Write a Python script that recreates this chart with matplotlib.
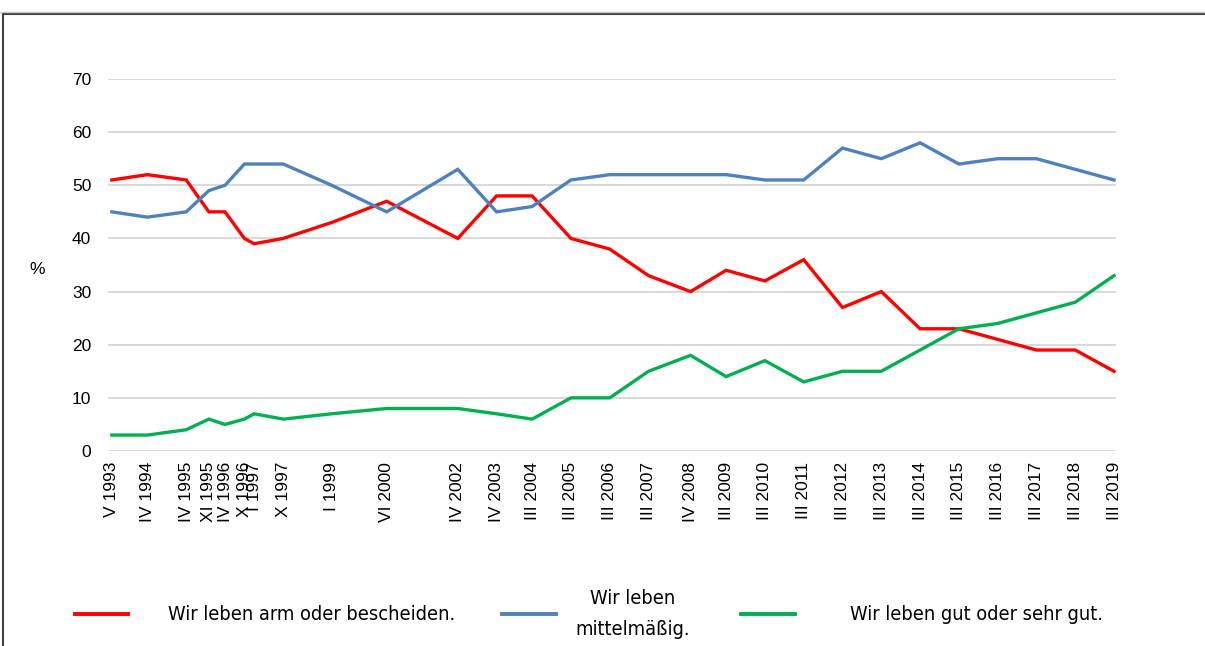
import matplotlib
matplotlib.use("Agg")
from matplotlib import pyplot as plt
from matplotlib.lines import Line2D
from matplotlib.patches import Rectangle

# survey waves (Roman numeral month + year)
waves = ["V 1993", "IV 1994", "IV 1995", "XI 1995", "IV 1996", "X 1996", "I 1997",
         "X 1997", "I 1999", "VI 2000", "IV 2002", "IV 2003", "III 2004", "III 2005",
         "III 2006", "III 2007", "IV 2008", "III 2009", "III 2010", "III 2011",
         "III 2012", "III 2013", "III 2014", "III 2015", "III 2016", "III 2017",
         "III 2018", "III 2019"]

arm = [51, 52, 51, 45, 45, 40, 39, 40, 43, 47, 40, 48, 48, 40, 38, 33, 30, 34, 32,
       36, 27, 30, 23, 23, 21, 19, 19, 15]
mittel = [45, 44, 45, 49, 50, 54, 54, 54, 50, 45, 53, 45, 46, 51, 52, 52, 52, 52, 51,
          51, 57, 55, 58, 54, 55, 55, 53, 51]
gut = [3, 3, 4, 6, 5, 6, 7, 6, 7, 8, 8, 7, 6, 10, 10, 15, 18, 14, 17, 13, 15, 15, 19,
       23, 24, 26, 28, 33]

labels = ["Wir leben arm oder bescheiden.", "Wir leben\nmittelmäßig.",
          "Wir leben gut oder sehr gut."]
colors = ["#FF0000", "#4F81BD", "#00B050"]

roman = {"I": 1, "II": 2, "III": 3, "IV": 4, "V": 5, "VI": 6, "VII": 7, "VIII": 8,
         "IX": 9, "X": 10, "XI": 11, "XII": 12}
x = []
for w in waves:
    m, y = w.split()
    x.append(int(y) + (roman[m] - 1) / 12)

plt.rcParams['font.family'] = ['Liberation Sans', 'DejaVu Sans']

fig = plt.figure(figsize=(12.05, 6.46), dpi=100)
ax = fig.add_axes([108 / 1205, 1 - 451 / 646, (1116 - 108) / 1205, (451 - 79) / 646])

for vals, c in zip([arm, mittel, gut], colors):
    ax.plot(x, vals, color=c, lw=2.4, solid_joinstyle='miter')

ax.set_ylim(0, 70)
ax.set_xlim(x[0] - 0.1, x[-1] + 0.05)
ax.set_yticks(range(0, 71, 10))
ax.set_xticks(x)
ax.set_xticklabels(waves, rotation=90, va='top', ha='center')
ax.tick_params(length=0, labelsize=12.5, colors='#000000')
ax.tick_params(axis='y', pad=12)
ax.tick_params(axis='x', pad=8)
ax.grid(axis='y', color='#D9D9D9', lw=1.4)
ax.set_axisbelow(True)
for s in ax.spines.values():
    s.set_visible(False)

fig.text(37 / 1205, 1 - 270 / 646, "%", fontsize=12.5, ha='center', va='center')

# outer frame of the chart
fig.add_artist(Rectangle((3 / 1205, -0.1), 1.2, 1 - 14 / 646 + 0.1, transform=fig.transFigure,
                         fill=False, edgecolor='#404040', lw=1.5))
fig.add_artist(Line2D([0, 1], [1 - 12 / 646] * 2, transform=fig.transFigure,
                      color='#C8C8C8', lw=1))

# legend drawn by hand to match the spacing
leg_y = 1 - 614 / 646
handles_x = [(75, 128), (502, 556), (741, 795)]
text_x = [312, 633, 976]
for (x0, x1), tx, lab, c in zip(handles_x, text_x, labels, colors):
    fig.add_artist(Line2D([x0 / 1205, x1 / 1205], [leg_y, leg_y], transform=fig.transFigure,
                          color=c, lw=2.8))
    fig.text(tx / 1205, leg_y, lab, fontsize=14.3, ha='center', va='center',
             multialignment='center', linespacing=1.75, stretch='condensed',
             family=['Liberation Sans Narrow', 'DejaVu Sans'])

fig.savefig('out.png', dpi=100)
